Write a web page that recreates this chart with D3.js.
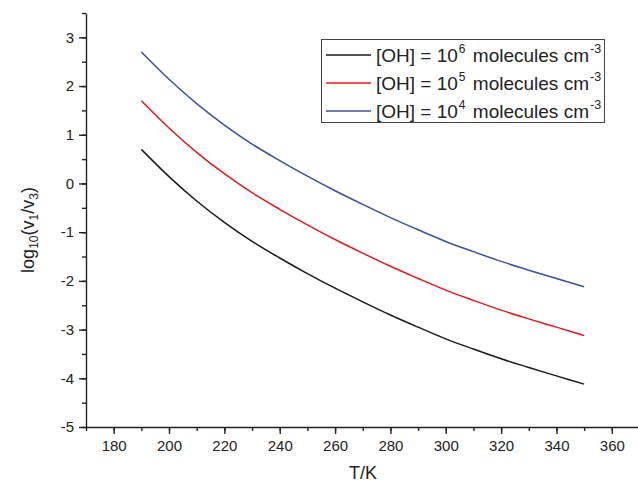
<!DOCTYPE html>
<html>
<head>
<meta charset="utf-8">
<script src="https://cdn.jsdelivr.net/npm/d3@7"></script>
<style>
  body { margin: 0; background: #fff; }
  svg { font-family: "Liberation Sans", Arial, sans-serif; }
  .axis text { font-size: 15px; fill: #222; }
  .axis path, .axis line { stroke: #222; stroke-width: 1.4; }
  .label { font-size: 18px; fill: #222; }
  .legend text { font-size: 19px; fill: #222; }
</style>
</head>
<body>
<svg width="638" height="483"></svg>
<script>
// temperatures (K)
const tempK = [190, 200, 210, 220, 230, 240, 250, 260, 270, 280, 290, 300, 310, 320, 330, 340, 350];
// log10(v1/v3) for each OH concentration
const ohE6 = [0.70, 0.14, -0.36, -0.80, -1.19, -1.53, -1.85, -2.15, -2.43, -2.70, -2.95, -3.19, -3.40, -3.60, -3.78, -3.95, -4.12];
const ohE5 = [1.70, 1.14, 0.64, 0.20, -0.19, -0.53, -0.85, -1.15, -1.43, -1.70, -1.95, -2.19, -2.40, -2.60, -2.78, -2.95, -3.12];
const ohE4 = [2.70, 2.14, 1.64, 1.20, 0.81, 0.47, 0.15, -0.15, -0.43, -0.70, -0.95, -1.19, -1.40, -1.60, -1.78, -1.95, -2.12];

const seriesNames = ['6', '5', '4'];
const seriesColors = ['#1a1a1a', '#e41a1c', '#3f4ea3'];
const seriesValues = [ohE6, ohE5, ohE4];

const xTicks = [180, 200, 220, 240, 260, 280, 300, 320, 340, 360];
const yTicks = [-5, -4, -3, -2, -1, 0, 1, 2, 3];

const svg = d3.select('svg');

const x = d3.scaleLinear().domain([170, 370]).range([86, 639.5]);
const y = d3.scaleLinear().domain([-5, 3.5]).range([427, 13]);

// minor ticks first
svg.append('g')
  .attr('class', 'axis')
  .attr('transform', 'translate(0,427)')
  .call(d3.axisBottom(x).tickValues(d3.range(170, 371, 10)).tickSize(4).tickFormat(''))
  .select('.domain').remove();

svg.append('g')
  .attr('class', 'axis')
  .attr('transform', 'translate(86,0)')
  .call(d3.axisLeft(y).tickValues(d3.range(-5, 3.51, 0.5)).tickSize(4).tickFormat(''))
  .select('.domain').remove();

// major ticks
svg.append('g')
  .attr('class', 'axis')
  .attr('transform', 'translate(0,427)')
  .call(d3.axisBottom(x).tickValues(xTicks).tickSize(7).tickSizeOuter(0).tickPadding(6)
    .tickFormat(d => String(d)));

svg.append('g')
  .attr('class', 'axis')
  .attr('transform', 'translate(86,0)')
  .call(d3.axisLeft(y).tickValues(yTicks).tickSize(7).tickSizeOuter(0).tickPadding(5)
    .tickFormat(d => String(d)));

// curves
const line = d3.line()
  .x((d, i) => x(tempK[i]))
  .y(d => y(d));

seriesValues.forEach((vals, k) => {
  svg.append('path')
    .datum(vals)
    .attr('fill', 'none')
    .attr('stroke', seriesColors[k])
    .attr('stroke-width', 1.5)
    .attr('d', line.curve(d3.curveMonotoneX));
});

// axis labels
svg.append('text')
  .attr('class', 'label')
  .attr('x', 363)
  .attr('y', 479)
  .attr('text-anchor', 'middle')
  .text('T/K');

const yl = svg.append('text')
  .attr('class', 'label')
  .attr('transform', 'translate(34,230) rotate(-90)')
  .attr('text-anchor', 'middle');
yl.append('tspan').text('log');
yl.append('tspan').attr('font-size', '12px').attr('dy', 4).text('10');
yl.append('tspan').attr('dy', -4).text('(v');
yl.append('tspan').attr('font-size', '12px').attr('dy', 4).text('1');
yl.append('tspan').attr('dy', -4).text('/v');
yl.append('tspan').attr('font-size', '12px').attr('dy', 4).text('3');
yl.append('tspan').attr('dy', -4).text(')');

// legend
const legend = svg.append('g').attr('class', 'legend');
legend.append('rect')
  .attr('x', 321.5).attr('y', 39.5)
  .attr('width', 283).attr('height', 83)
  .attr('fill', '#fff')
  .attr('stroke', '#444')
  .attr('stroke-width', 1);

seriesNames.forEach((n, i) => {
  const cy = 55 + i * 28;
  legend.append('line')
    .attr('x1', 326).attr('x2', 371)
    .attr('y1', cy).attr('y2', cy)
    .attr('stroke', seriesColors[i])
    .attr('stroke-width', 1.5);
  const t = legend.append('text')
    .attr('x', 376)
    .attr('y', cy + 7);
  t.append('tspan').text('[OH] = 10');
  t.append('tspan').attr('font-size', '12px').attr('dx', 1).attr('dy', -9).text(n);
  t.append('tspan').attr('dx', 2).attr('dy', 9).text(' molecules cm');
  t.append('tspan').attr('font-size', '12.5px').attr('dx', 1).attr('dy', -9).text('-3');
});
</script>
</body>
</html>
